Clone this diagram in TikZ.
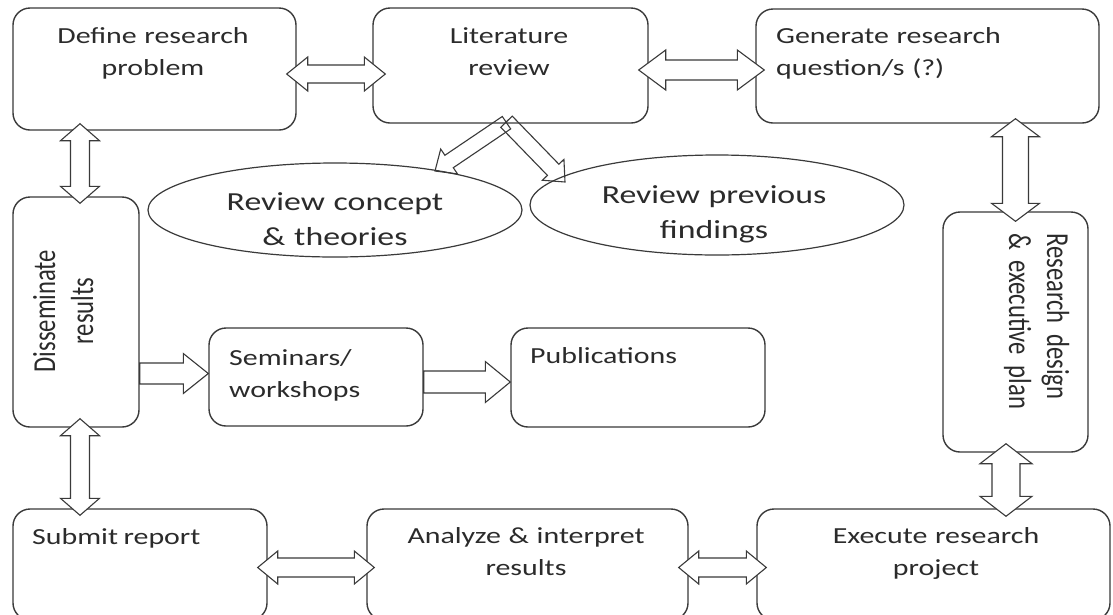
\documentclass[tikz,border=0pt]{standalone}
\usepackage{fontspec}
\setmainfont{Carlito}[FakeStretch=1.3]
\newfontfamily\rotfont{Carlito}[FakeStretch=0.77]
\usetikzlibrary{calc,shapes.geometric}
\definecolor{linecol}{HTML}{3A3A3A}
\definecolor{textcol}{HTML}{2B2B2B}
\DeclareRobustCommand\boxfont{\fontsize{23}{32.5}\selectfont\spaceskip=5.5pt plus 1pt minus 1pt\relax}
\DeclareRobustCommand\ellfont{\fontsize{26}{35}\selectfont\spaceskip=6.5pt plus 1pt minus 1pt\relax}
\DeclareRobustCommand\sidefont{\rotfont\fontsize{32}{38}\selectfont\spaceskip=4.5pt plus 1pt minus 1pt\relax}
% double fat arrow: #1 tip A, #2 tip B, #3 shaft half width, #4 head half width, #5 head length
\newcommand\dblarrow[5]{%
  \path ($(#1)!#5!(#2)$) coordinate (hA) ($(#2)!#5!(#1)$) coordinate (hB);
  \draw[fatarrow] (#1) -- ($(hA)!#4!90:(#2)$) -- ($(hA)!#3!90:(#2)$)
     -- ($(hB)!#3!-90:(#1)$) -- ($(hB)!#4!-90:(#1)$) -- (#2)
     -- ($(hB)!#4!90:(#1)$) -- ($(hB)!#3!90:(#1)$)
     -- ($(hA)!#3!-90:(#2)$) -- ($(hA)!#4!-90:(#2)$) -- cycle;}
% single fat arrow: [style] #2 start, #3 tip, #4 shaft half width, #5 head half width, #6 head length
\newcommand\sglarrow[6][fatarrow]{%
  \path ($(#3)!#6!(#2)$) coordinate (hB);
  \draw[#1] ($(#2)!#4!90:(#3)$) -- ($(hB)!#4!-90:(#2)$) -- ($(hB)!#5!-90:(#2)$) -- (#3)
     -- ($(hB)!#5!90:(#2)$) -- ($(hB)!#4!90:(#2)$) -- ($(#2)!#4!-90:(#3)$) -- cycle;}
\begin{document}
\begin{tikzpicture}[x=1pt,y=-1pt]
\tikzset{
  box/.style={draw=linecol, line width=1.4pt, rounded corners=17pt, inner sep=0pt},
  ell/.style={draw=linecol, line width=1.2pt, ellipse, inner sep=0pt},
  fatarrow/.style={draw=linecol, line width=1.1pt, fill=white, line join=miter},
  diagarrow/.style={draw=linecol, line width=1.1pt, fill=none, line join=miter},
  txt/.style={text=textcol, inner sep=0pt, font=\boxfont},
  etxt/.style={text=textcol, inner sep=0pt, font=\ellfont},
  rtxt/.style={text=textcol, inner sep=0pt, font=\sidefont},
}
\useasboundingbox (0,0) rectangle (1113,614);
\clip (0,0) rectangle (1113,614);
\fill[white] (0,0) rectangle (1113,614);

% boxes
\node[box, minimum width=283pt, minimum height=122pt] (def) at (154.5,69) {};
\node[box, minimum width=275pt, minimum height=115pt] (lit) at (510.5,65.5) {};
\node[box, minimum width=343pt, minimum height=114pt] (gen) at (927.5,66) {};
\node[box, minimum width=126pt, minimum height=230pt] (diss) at (76,312) {};
\node[box, minimum width=145pt, minimum height=240pt] (rd) at (1015.5,332) {};
\node[box, minimum width=214pt, minimum height=98pt] (sem) at (316,377) {};
\node[box, minimum width=254pt, minimum height=99pt] (pub) at (638,377.5) {};
\node[box, minimum width=254pt, minimum height=111pt] (sub) at (140,564.5) {};
\node[box, minimum width=321pt, minimum height=111pt] (ana) at (527.5,564.5) {};
\node[box, minimum width=353pt, minimum height=111pt] (exe) at (933.5,564.5) {};

% ellipses
\node[ell, minimum width=374pt, minimum height=94pt] (ell1) at (335,210) {};
\node[ell, minimum width=374pt, minimum height=100pt] (ell2) at (717,205) {};

% diagonal arrows from literature review
\coordinate (ls1) at ($(lit.south)+(-4,-1)$);
\coordinate (ls2) at ($(lit.south)+(-4,-2)$);
\coordinate (t1) at ($(ell1.center)+(100,-39)$);
\coordinate (t2) at ($(ell2.center)+(-152,-23)$);
\sglarrow[diagarrow]{ls1}{t1}{7.5pt}{15pt}{17pt}
\sglarrow[diagarrow]{ls2}{t2}{8pt}{15pt}{17pt}

% double arrows
\coordinate (a1) at ($(def.east)+(-10,5)$);
\coordinate (b1) at ($(lit.west)+(13,8.5)$);
\dblarrow{a1}{b1}{9pt}{17pt}{21pt}
\coordinate (a2) at ($(lit.east)+(-10,4.5)$);
\coordinate (b2) at ($(gen.west)+(9,4)$);
\dblarrow{a2}{b2}{10pt}{20pt}{27pt}
\coordinate (a3) at ($(rd.north |- gen.south)+(0,-5)$);
\coordinate (b3) at ($(rd.north)+(0,10)$);
\dblarrow{a3}{b3}{13pt}{24pt}{18pt}
\coordinate (a4) at ($(rd.south)+(-9.5,-9)$);
\coordinate (b4) at ($(rd.south |- exe.north)+(-9.5,8)$);
\dblarrow{a4}{b4}{14pt}{26pt}{20pt}
\coordinate (a5) at ($(diss.north |- def.south)+(4,-7)$);
\coordinate (b5) at ($(diss.north)+(4,7)$);
\dblarrow{a5}{b5}{9.5pt}{19.5pt}{17pt}
\coordinate (a6) at ($(diss.south)+(4,-9)$);
\coordinate (b6) at ($(diss.south |- sub.north)+(4,7)$);
\dblarrow{a6}{b6}{9.5pt}{19.5pt}{17pt}
\coordinate (s7) at ($(diss.east)+(0,61.5)$);
\coordinate (t7) at ($(sem.west)+(0,-3.5)$);
\sglarrow{s7}{t7}{10.5pt}{20pt}{25pt}
\coordinate (s8) at ($(sem.east)+(0,5)$);
\coordinate (t8) at ($(pub.west)+(0,4.5)$);
\sglarrow{s8}{t8}{11pt}{20.5pt}{25pt}
\coordinate (a9) at ($(sub.east)+(-10,3)$);
\coordinate (b9) at ($(ana.west)+(8,3)$);
\dblarrow{a9}{b9}{9.5pt}{16.5pt}{20pt}
\coordinate (a10) at ($(ana.east)+(-10,3)$);
\coordinate (b10) at ($(exe.west)+(10,3)$);
\dblarrow{a10}{b10}{9.5pt}{16.5pt}{20pt}

% texts
\node[txt, text width=280pt, align=center, anchor=base] (deft) at (153,43) {Define research\\problem};
\node[txt, text width=270pt, align=center, anchor=base] (litt) at (509,43) {Literature\\review};
\node[txt, text width=330pt, align=left, anchor=base west] (gent) at (776,43) {Generate research\\question/s (?)};
\node[rtxt, text width=220pt, align=center, anchor=base, rotate=90] (disst) at (55,311) {Disseminate\\results};
\node[rtxt, text width=230pt, align=left, anchor=base west, rotate=-90] (rdt) at (1047,233) {Research design\\\& executive plan};
\node[etxt, text width=360pt, align=center, anchor=base] (ell1t) at (335,210) {Review concept\\\& theories};
\node[etxt, text width=360pt, align=center, anchor=base] (ell2t) at (714,203) {Review previous\\findings};
\node[txt, text width=210pt, align=left, anchor=base west] (semt) at (229,365) {Seminars/\\workshops};
\node[txt, anchor=base west] (pubt) at (530,363) {Publications};
\node[txt, anchor=base west] (subt) at (32,544) {Submit report};
\node[txt, text width=320pt, align=center, anchor=base] (anat) at (526,543) {Analyze \& interpret\\results};
\node[txt, text width=340pt, align=center, anchor=base] (exet) at (936,543) {Execute research\\project};
\end{tikzpicture}
\end{document}
